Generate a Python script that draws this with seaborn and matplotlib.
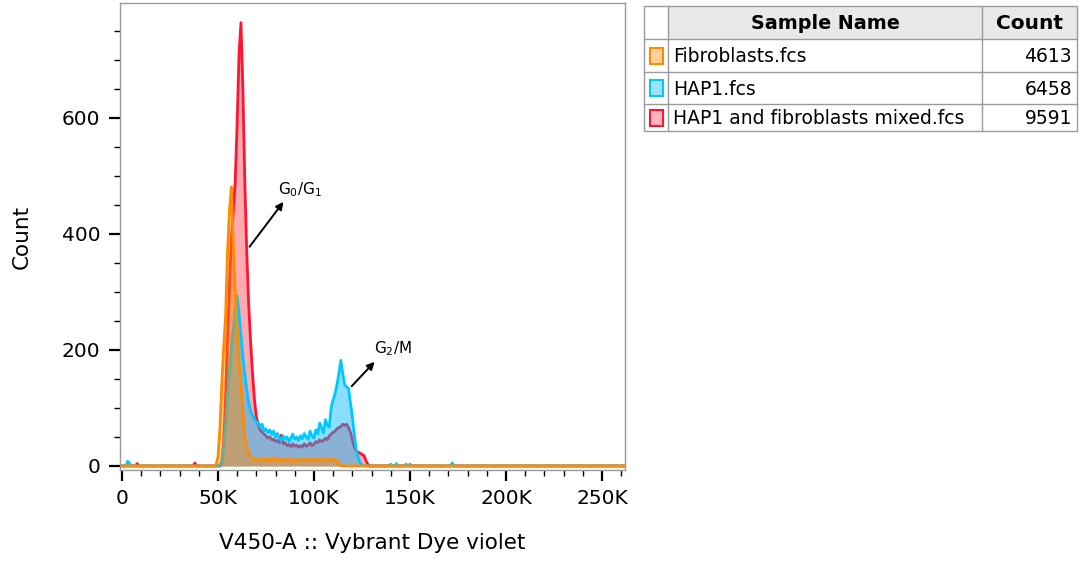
import matplotlib
matplotlib.use("Agg")
import matplotlib.pyplot as plt
import numpy as np
import pandas as pd
import seaborn as sns
from matplotlib.patches import Rectangle
from matplotlib.ticker import FixedLocator, MultipleLocator, FuncFormatter

sns.set_style("ticks")
plt.rcParams["font.family"] = ["DejaVu Sans"]
plt.rcParams["text.color"] = "black"
plt.rcParams["axes.labelcolor"] = "black"
plt.rcParams["xtick.color"] = "black"
plt.rcParams["ytick.color"] = "black"

# histogram channels, in thousands of V450-A units
peak_start_k = 46
full_k = np.arange(0, 263)

fibro_counts = [
    0, 0, 0, 2, 15, 62, 140, 205, 260, 370,
    440, 481, 380, 300, 234, 180, 140, 95, 50, 32,
    22, 16, 12, 10, 12, 8, 10, 14, 9, 11,
    13, 8, 12, 10, 14, 9, 11, 7, 12, 10,
    9, 13, 8, 11, 10, 7, 12, 9, 11, 8,
    12, 10, 9, 13, 8, 11, 9, 12, 10, 8,
    11, 14, 9, 10, 12, 9, 10, 2, 0, 0,
    0, 0, 0, 0, 0, 0, 0, 0, 0, 0,
    0, 0, 0, 0, 0, 0, 0, 0,
]
hap1_counts = [
    0, 0, 0, 0, 0, 2, 8, 30, 70, 119,
    160, 205, 234, 270, 293, 263, 225, 188, 160, 131,
    110, 95, 88, 80, 76, 74, 68, 72, 60, 64,
    58, 62, 55, 60, 50, 56, 48, 44, 52, 46,
    50, 42, 48, 55, 46, 50, 44, 52, 47, 56,
    50, 46, 60, 52, 48, 62, 55, 74, 66, 57,
    80, 70, 67, 102, 114, 125, 140, 160, 182, 160,
    140, 136, 134, 110, 85, 55, 28, 15, 6, 2,
    0, 0, 0, 0, 0, 0, 0, 0,
]
mixed_counts = [
    0, 0, 0, 0, 0, 0, 5, 40, 120, 220,
    310, 390, 440, 490, 590, 710, 764, 650, 490, 370,
    280, 215, 160, 115, 85, 72, 62, 58, 55, 52,
    48, 50, 45, 46, 42, 44, 40, 53, 38, 40,
    35, 37, 33, 38, 34, 36, 32, 35, 33, 38,
    34, 36, 40, 35, 38, 42, 40, 45, 42, 44,
    48, 45, 52, 55, 58, 60, 64, 66, 68, 72,
    70, 72, 66, 58, 45, 32, 26, 24, 22, 20,
    18, 10, 3, 0, 0, 0, 0, 0,
]
# stray events outside the main peaks: channel (K) -> count
fibro_stray = {}
hap1_stray = {3: 8, 4: 4, 140: 3, 143: 4, 148: 3, 150: 3, 172: 5}
mixed_stray = {8: 4, 38: 5}

samples = ["HAP1 and fibroblasts mixed.fcs", "HAP1.fcs", "Fibroblasts.fcs"]
event_totals = [9591, 6458, 4613]
line_colors = ["#FF1432", "#00C8FF", "#FF8C00"]
fill_colors = ["#FF4050", "#00B9FF", "#FF8C00"]
fill_alpha = [0.45, 0.46, 0.45]


def full_series(counts, stray):
    y = np.zeros(len(full_k))
    y[peak_start_k:peak_start_k + len(counts)] = counts
    for k, v in stray.items():
        y[k] = v
    return y


series = [
    full_series(mixed_counts, mixed_stray),
    full_series(hap1_counts, hap1_stray),
    full_series(fibro_counts, fibro_stray),
]

fig = plt.figure(figsize=(10.8, 5.61), dpi=100)
ax = fig.add_axes([120 / 1080, 1 - 470 / 561, 505 / 1080, 467 / 561])

for i, (name, y) in enumerate(zip(samples, series)):
    df = pd.DataFrame({"x": full_k * 1000, "count": y})
    ax.fill_between(df["x"], 0, df["count"], color=fill_colors[i],
                    alpha=fill_alpha[i], linewidth=0, zorder=2 + 2 * i)
    sns.lineplot(data=df, x="x", y="count", ax=ax, color=line_colors[i],
                 linewidth=2.0, zorder=3 + 2 * i)

ax.set_xlim(-1000, 262000)
ax.set_ylim(-7, 798)
ax.xaxis.set_major_locator(MultipleLocator(50000))
ax.xaxis.set_minor_locator(MultipleLocator(10000))
ax.xaxis.set_major_formatter(FuncFormatter(lambda v, p: "0" if v == 0 else f"{int(v / 1000)}K"))
ax.yaxis.set_major_locator(FixedLocator([0, 200, 400, 600]))
ax.yaxis.set_minor_locator(MultipleLocator(50))
ax.tick_params(axis="both", which="major", length=8, width=1.6, labelsize=14.5,
               color="black", pad=6)
ax.tick_params(axis="both", which="minor", length=4, width=1.0, color="black")
for s in ax.spines.values():
    s.set_color("#999999")
    s.set_linewidth(1.0)
ax.set_xlabel("V450-A :: Vybrant Dye violet", fontsize=15.5, labelpad=18)
ax.set_ylabel("Count", fontsize=15.5, labelpad=22)

ax.annotate("", xy=(85000, 459), xytext=(65600, 374),
            arrowprops=dict(arrowstyle="-|>", color="black", lw=1.4, mutation_scale=11),
            zorder=10)
ax.text(92700, 476, r"G$_0$/G$_1$", fontsize=11, ha="center", va="center", zorder=10)
ax.annotate("", xy=(132600, 183), xytext=(118700, 134),
            arrowprops=dict(arrowstyle="-|>", color="black", lw=1.4, mutation_scale=11),
            zorder=10)
ax.text(141000, 203, r"G$_2$/M", fontsize=11, ha="center", va="center", zorder=10)

# sample table, drawn in figure pixel coordinates
tax = fig.add_axes([0, 0, 1, 1])
tax.set_xlim(0, 1080)
tax.set_ylim(561, 0)
tax.axis("off")
col_x = [644, 668, 982, 1077]
row_y = [6, 39, 72, 104, 131]
grid = "#9A9A9A"
tax.add_patch(Rectangle((col_x[1], row_y[0]), col_x[3] - col_x[1], row_y[1] - row_y[0],
                        facecolor="#E9E9E9", edgecolor="none"))
tax.add_patch(Rectangle((col_x[0], row_y[0]), col_x[3] - col_x[0], row_y[-1] - row_y[0],
                        facecolor="none", edgecolor=grid, linewidth=1.0))
for yy in row_y[1:-1]:
    tax.plot([col_x[0], col_x[3]], [yy, yy], color=grid, linewidth=1.0)
for xx in col_x[1:-1]:
    tax.plot([xx, xx], [row_y[0], row_y[-1]], color=grid, linewidth=1.0)
tax.text((col_x[1] + col_x[2]) / 2, (row_y[0] + row_y[1]) / 2 + 1, "Sample Name",
         fontsize=13.8, fontweight="bold", ha="center", va="center")
tax.text((col_x[2] + col_x[3]) / 2, (row_y[0] + row_y[1]) / 2 + 1, "Count",
         fontsize=14.5, fontweight="bold", ha="center", va="center")
legend_order = [2, 1, 0]
for r, i in enumerate(legend_order):
    yc = (row_y[r + 1] + row_y[r + 2]) / 2
    tax.add_patch(Rectangle((650, yc - 8), 13, 16, facecolor=fill_colors[i],
                            alpha=fill_alpha[i] * 0.85, edgecolor="none"))
    tax.add_patch(Rectangle((650, yc - 8), 13, 16, facecolor="none",
                            edgecolor=line_colors[i], linewidth=1.5))
    tax.text(673, yc + 1, samples[i], fontsize=13.5, ha="left", va="center")
    tax.text(1072, yc + 1, str(event_totals[i]), fontsize=13.5, ha="right", va="center")

fig.savefig("out.png", dpi=100)
